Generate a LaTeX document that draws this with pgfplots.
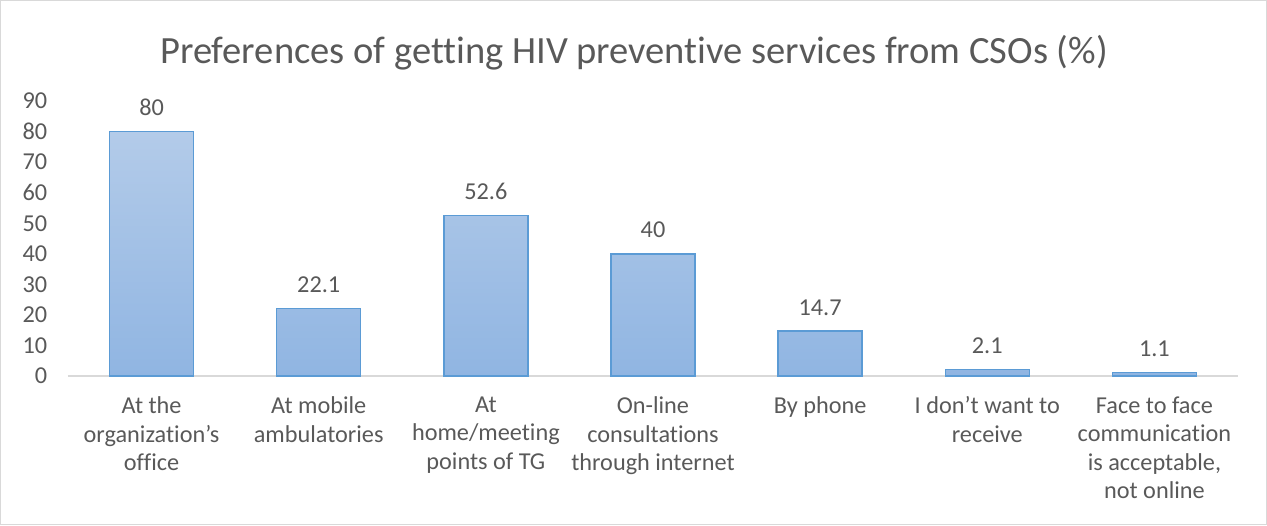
\documentclass[border=0pt]{standalone}
\usepackage{pgfplots}
\pgfplotsset{compat=1.18}
\usepackage{fontspec}
\setmainfont[Ligatures={NoCommon}]{Carlito}
\definecolor{txt}{HTML}{595959}
\definecolor{barline}{HTML}{5B9BD5}
\definecolor{bartop}{HTML}{B3CBE9}
\definecolor{barbot}{HTML}{90B5E2}
\definecolor{frame}{HTML}{D9D9D9}
\begin{document}
\begin{tikzpicture}[x=1pt,y=1pt]
\useasboundingbox (0,0) rectangle (950.25,393.75);
\draw[frame, line width=0.75pt] (0.6,0.6) rectangle (949.6,393.1);
\node[text=txt, font=\fontsize{28.9}{34}\selectfont] at (475.5,354.5) {Preferences of getting HIV preventive services from CSOs (\%)};
\begin{axis}[
  at={(51pt,111.75pt)}, anchor=south west,
  scale only axis, width=877.5pt, height=206.25pt,
  xmin=-0.5, xmax=6.5, ymin=0, ymax=90,
  ytick={0,10,...,90},
  xtick={0,...,6},
  xticklabels={{At the\\organization’s\\office},{At mobile\\ambulatories},{At\\home/meeting\\points of TG},{On-line\\consultations\\through internet},{By phone},{I don’t want to\\receive},{Face to face\\communication\\is acceptable,\\not online}},
  axis lines=left,
  axis line style={-},
  y axis line style={draw=none},
  x axis line style={draw=frame, line width=0.9pt},
  major tick length=0pt,
  /pgf/number format/assume math mode=true,
  ticklabel style={text=txt, font=\fontsize{18.2}{21.4}\selectfont},
  yticklabel style={xshift=-12pt},
  xticklabel style={align=center, anchor=north, yshift=-12pt},
  ybar, bar width=63pt,
  nodes near coords,
  every node near coord/.append style={text=txt, font=\fontsize{18.2}{21}\selectfont, yshift=8pt},
  clip=false,
]
\addplot[draw=barline, line width=1.1pt, shade, top color=bartop, bottom color=barbot]
 coordinates {(0,80) (1,22.1) (2,52.6) (3,40) (4,14.7) (5,2.1) (6,1.1)};
\end{axis}
\end{tikzpicture}
\end{document}
